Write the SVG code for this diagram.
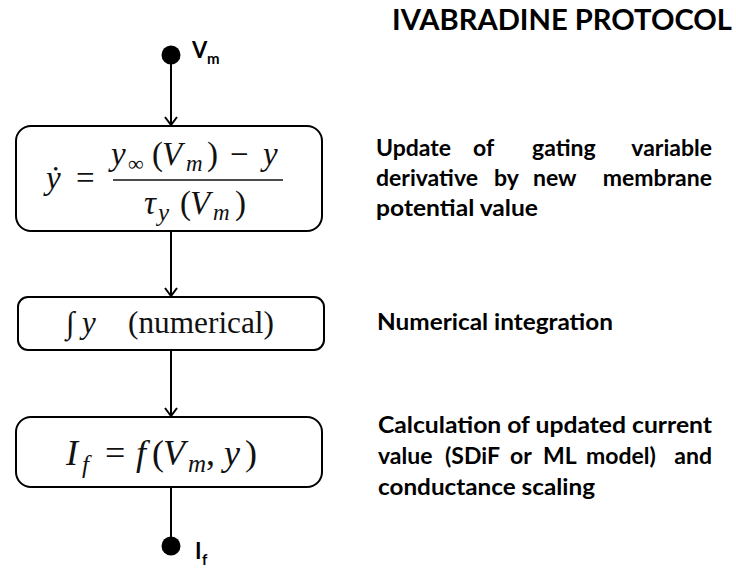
<svg xmlns="http://www.w3.org/2000/svg" width="736" height="570" viewBox="0 0 736 570">
<style>
.box{fill:#fff;stroke:#000;stroke-width:2}
.conn{stroke:#000;stroke-width:2;fill:none}
.dot{fill:#000}
.lbl{font-family:Lato,"Open Sans","Liberation Sans",sans-serif;font-weight:bold;fill:#000}
.desc{font-family:Lato,"Open Sans","Liberation Sans",sans-serif;font-weight:bold;font-size:23px;fill:#000}
.m{font-family:"Liberation Serif","Times New Roman",serif;fill:#111}
.i{font-style:italic}
</style>
<defs>
<marker id="chev" viewBox="0 0 10 14" refX="9" refY="7" markerWidth="10" markerHeight="14" markerUnits="userSpaceOnUse" orient="auto">
<path d="M1,1 L9,7 L1,13" fill="none" stroke="#000" stroke-width="2"/>
</marker>
</defs>
<rect width="736" height="570" fill="#fff"/>

<text class="lbl" x="392" y="30" font-size="29" textLength="340" lengthAdjust="spacingAndGlyphs">IVABRADINE PROTOCOL</text>

<g id="connectors">
<line class="conn" x1="171" y1="60" x2="171" y2="125" marker-end="url(#chev)"/>
<line class="conn" x1="171" y1="231" x2="171" y2="296" marker-end="url(#chev)"/>
<line class="conn" x1="171" y1="350" x2="171" y2="416" marker-end="url(#chev)"/>
<line class="conn" x1="171" y1="487" x2="171" y2="540"/>
</g>

<g id="input-vm">
<circle class="dot" cx="171" cy="55" r="9.5"/>
<text class="lbl" x="192" y="58" font-size="22">V</text>
<text class="lbl" x="207" y="64" font-size="15">m</text>
</g>

<g id="node-derivative">
<rect class="box" x="16" y="126" width="306" height="105" rx="15"/>
<text class="m i" x="46" y="189" font-size="33">ẏ</text>
<text class="m" x="76" y="189" font-size="33">=</text>
<line x1="113" y1="180" x2="283" y2="180" stroke="#111" stroke-width="1.6"/>
<text class="m i" x="111" y="165" font-size="33">y</text>
<text class="m" x="128" y="171" font-size="22">∞</text>
<text class="m" x="152" y="165" font-size="33">(</text>
<text class="m i" x="162" y="165" font-size="33">V</text>
<text class="m i" x="186" y="171" font-size="23">m</text>
<text class="m" x="207" y="165" font-size="33">)</text>
<text class="m" x="230" y="165" font-size="33">−</text>
<text class="m i" x="263" y="165" font-size="33">y</text>
<text class="m i" x="144" y="214" font-size="33">τ</text>
<text class="m i" x="158" y="221" font-size="25">y</text>
<text class="m" x="180" y="214" font-size="33">(</text>
<text class="m i" x="190" y="214" font-size="33">V</text>
<text class="m i" x="213" y="220" font-size="23">m</text>
<text class="m" x="235" y="214" font-size="33">)</text>
</g>

<g id="node-integration">
<rect class="box" x="18" y="297" width="306" height="53" rx="10"/>
<text class="m i" x="66" y="333" font-size="31">∫</text>
<text class="m i" x="82" y="333" font-size="31">y</text>
<text class="m" x="128" y="333" font-size="31" textLength="146" lengthAdjust="spacingAndGlyphs">(numerical)</text>
</g>

<g id="node-current">
<rect class="box" x="16" y="417" width="306" height="70" rx="15"/>
<text class="m i" x="66" y="465" font-size="36">I</text>
<text class="m i" x="82" y="473" font-size="25">f</text>
<text class="m" x="105" y="465" font-size="36">=</text>
<text class="m i" x="136" y="465" font-size="36">f</text>
<text class="m" x="152" y="465" font-size="36">(</text>
<text class="m i" x="163" y="465" font-size="36">V</text>
<text class="m i" x="188" y="472" font-size="25">m</text>
<text class="m" x="206" y="465" font-size="36">,</text>
<text class="m i" x="224" y="465" font-size="36">y</text>
<text class="m" x="245" y="465" font-size="36">)</text>
</g>

<g id="output-if">
<circle class="dot" cx="171" cy="546" r="9.5"/>
<text class="lbl" x="195" y="559" font-size="22">I</text>
<text class="lbl" x="202" y="565" font-size="15">f</text>
</g>

<g id="desc-1">
<text class="desc" y="156"><tspan x="376">Update</tspan><tspan x="473">of</tspan><tspan x="532">gating</tspan><tspan x="712" text-anchor="end">variable</tspan></text>
<text class="desc" y="186"><tspan x="376">derivative</tspan><tspan x="494">by</tspan><tspan x="533">new</tspan><tspan x="712" text-anchor="end">membrane</tspan></text>
<text class="desc" x="376" y="216" textLength="162" lengthAdjust="spacingAndGlyphs">potential value</text>
</g>

<g id="desc-2">
<text class="desc" x="377" y="330" textLength="236" lengthAdjust="spacingAndGlyphs">Numerical integration</text>
</g>

<g id="desc-3">
<text class="desc" x="378" y="433" textLength="334" lengthAdjust="spacingAndGlyphs">Calculation of updated current</text>
<text class="desc" y="464"><tspan x="378">value</tspan><tspan x="445">(SDiF</tspan><tspan x="510">or</tspan><tspan x="543">ML</tspan><tspan x="586">model)</tspan><tspan x="712" text-anchor="end">and</tspan></text>
<text class="desc" x="378" y="495" textLength="217" lengthAdjust="spacingAndGlyphs">conductance scaling</text>
</g>
</svg>
